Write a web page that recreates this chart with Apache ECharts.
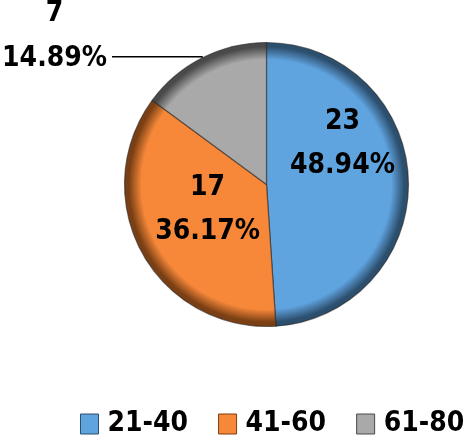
<!DOCTYPE html>
<html>
<head>
<meta charset="utf-8">
<script src="https://cdn.jsdelivr.net/npm/echarts@6/dist/echarts.min.js"></script>
<style>
  html, body { margin: 0; padding: 0; background: #fff; }
  #chart { width: 468px; height: 435px; }
</style>
</head>
<body>
<div id="chart"></div>
<script>
// age groups and counts
const categories = ['21-40', '41-60', '61-80'];
const counts = [23, 17, 7];
const percents = ['48.94%', '36.17%', '14.89%'];

const baseColors = ['#5fa3df', '#f7883a', '#a9a9a9'];
const rimColors = ['#2d4f6e', '#7a3f14', '#4a4a4a'];

const CX = 266.5, CY = 184.5, R = 142;
const FONT = '"DejaVu Sans Condensed", "Open Sans", sans-serif';

// bevel look: flat centre, dark outer rim
function bevel(i) {
  return {
    type: 'radial', x: CX, y: CY, r: R, global: true,
    colorStops: [
      { offset: 0, color: baseColors[i] },
      { offset: 0.88, color: baseColors[i] },
      { offset: 0.97, color: rimColors[i] },
      { offset: 1, color: rimColors[i] }
    ]
  };
}

const chart = echarts.init(document.getElementById('chart'), null, { renderer: 'canvas' });

const data = categories.map((name, i) => {
  const item = {
    name: name,
    value: counts[i],
    itemStyle: { color: bevel(i) }
  };
  if (i === 2) {
    item.label = {
      position: 'outside',
      padding: [0, 0, 42, 0],
      formatter: p => '{c|' + counts[p.dataIndex] + '}\n{c|' + percents[p.dataIndex] + '}',
      rich: {
        c: { align: 'center', fontFamily: FONT, fontWeight: 'bold', fontSize: 28, lineHeight: 45, color: '#000' }
      }
    };
    item.labelLine = { show: true, length: 1, length2: 90 };
  }
  return item;
});

// small nudges for the inside labels
const labelShift = [[2, -38], [6, -10], [0, 0]];

chart.setOption({
  animation: false,
  legend: {
    left: 80,
    top: 410,
    width: 420,
    padding: 0,
    itemWidth: 18,
    itemHeight: 20,
    itemGap: 30,
    icon: 'rect',
    textStyle: { fontFamily: FONT, fontWeight: 'bold', fontSize: 28, color: '#000', padding: [0, 0, 0, 4] },
    data: categories.map((name, i) => ({ name: name, itemStyle: { color: baseColors[i], borderColor: rimColors[i], borderWidth: 1 } }))
  },
  series: [{
    type: 'pie',
    center: [CX, CY],
    radius: R,
    startAngle: 90,
    clockwise: true,
    avoidLabelOverlap: false,
    itemStyle: {
      borderColor: 'rgba(30,30,30,0.55)',
      borderWidth: 1.2
    },
    label: {
      show: true,
      position: 'inside',
      fontFamily: FONT,
      fontWeight: 'bold',
      fontSize: 28,
      lineHeight: 44,
      color: '#000',
      formatter: p => counts[p.dataIndex] + '\n' + percents[p.dataIndex]
    },
    labelLine: { lineStyle: { color: '#000', width: 1.5 } },
    labelLayout: p => ({ dx: labelShift[p.dataIndex][0], dy: labelShift[p.dataIndex][1] }),
    emphasis: { disabled: true },
    data: data
  }]
});
</script>
</body>
</html>
